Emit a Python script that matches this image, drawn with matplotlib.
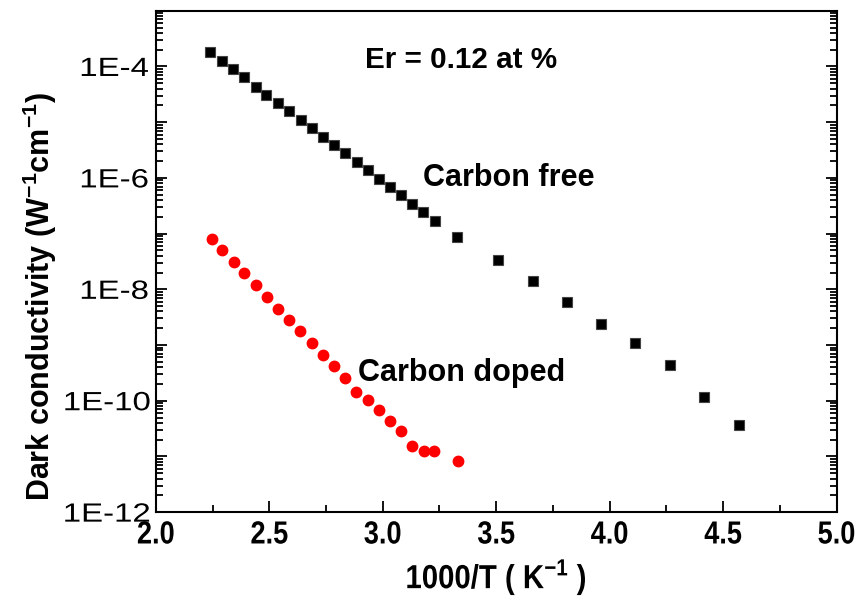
import matplotlib
matplotlib.use("Agg")
import matplotlib.pyplot as plt
import numpy as np
from matplotlib.ticker import LogLocator, FuncFormatter, MultipleLocator, NullFormatter
from matplotlib.patheffects import AbstractPathEffect
from matplotlib.transforms import Affine2D

# Arrhenius data, 1000/T against log10 of the dark conductivity
x_free = [2.238, 2.292, 2.338, 2.388, 2.442, 2.487, 2.538, 2.587, 2.638, 2.690,
          2.738, 2.787, 2.835, 2.885, 2.937, 2.982, 3.032, 3.081, 3.129, 3.178,
          3.228, 3.329, 3.510, 3.660, 3.810, 3.960, 4.110, 4.265, 4.415, 4.569]
logs_free = [-3.731, -3.898, -4.047, -4.197, -4.370, -4.513, -4.664, -4.795, -4.957, -5.106,
             -5.268, -5.411, -5.555, -5.706, -5.867, -6.016, -6.165, -6.303, -6.465, -6.609,
             -6.770, -7.063, -7.476, -7.853, -8.230, -8.614, -8.966, -9.361, -9.935, -10.438]

x_doped = [2.246, 2.290, 2.343, 2.387, 2.440, 2.488, 2.537, 2.585, 2.634, 2.687, 2.735,
           2.784, 2.832, 2.881, 2.934, 2.982, 3.031, 3.079, 3.128, 3.181, 3.225, 3.333]
logs_doped = [-7.099, -7.303, -7.501, -7.709, -7.925, -8.140, -8.356, -8.553, -8.751, -8.966, -9.181,
              -9.368, -9.583, -9.835, -9.978, -10.158, -10.366, -10.546, -10.804, -10.894, -10.905, -11.084]

sig_free = 10.0 ** np.array(logs_free)
sig_doped = 10.0 ** np.array(logs_doped)


class Stretch(AbstractPathEffect):
    """Scale glyphs horizontally about their own centre (narrow / wide type)."""

    def __init__(self, sx):
        super().__init__()
        self._sx = sx

    def draw_path(self, renderer, gc, tpath, affine, rgbFace=None):
        ext = tpath.get_extents()
        cx = 0.5 * (ext.x0 + ext.x1)
        t = Affine2D().translate(-cx, 0).scale(self._sx, 1).translate(cx, 0) + affine
        renderer.draw_path(gc, tpath, t, rgbFace)


plt.rcParams['font.family'] = ['Liberation Sans', 'DejaVu Sans']
plt.rcParams['mathtext.fontset'] = 'custom'
plt.rcParams['mathtext.rm'] = 'Liberation Sans'
plt.rcParams['mathtext.bf'] = 'Liberation Sans:bold'

fig = plt.figure(figsize=(8.66, 5.99), dpi=100)
ax = fig.add_axes([0.180, 0.145, 0.786, 0.837])

ax.plot(x_free, sig_free, linestyle='none', marker='s', markersize=7.5,
        markerfacecolor='black', markeredgecolor='#444444', markeredgewidth=0.8)
ax.plot(x_doped, sig_doped, linestyle='none', marker='o', markersize=7.5,
        markerfacecolor='red', markeredgecolor='red')

ax.set_yscale('log')
ax.set_xlim(2.0, 5.0)
ax.set_ylim(1e-12, 1e-3)

ax.xaxis.set_major_locator(MultipleLocator(0.5))
ax.xaxis.set_minor_locator(MultipleLocator(0.25))
ax.yaxis.set_major_locator(LogLocator(base=10, numticks=20))
ax.yaxis.set_minor_locator(LogLocator(base=10, subs=np.arange(2, 10), numticks=20))
ax.yaxis.set_minor_formatter(NullFormatter())


def elabel(v, pos):
    n = int(round(np.log10(v)))
    if n % 2 == 0:
        return '1E%d' % n
    return ''


ax.yaxis.set_major_formatter(FuncFormatter(elabel))

for s in ax.spines.values():
    s.set_linewidth(1.5)

ax.tick_params(axis='both', which='both', direction='in', width=1.3, top=False, right=True)
ax.tick_params(axis='both', which='major', length=8)
ax.tick_params(axis='both', which='minor', length=5)
ax.tick_params(axis='y', labelsize=19, pad=10)
ax.tick_params(axis='x', labelsize=23, pad=6)
for lab in ax.get_yticklabels():
    lab.set_path_effects([Stretch(1.25)])
for lab in ax.get_xticklabels():
    lab.set_fontweight('bold')
    lab.set_path_effects([Stretch(0.85)])

ax.set_xlabel(r'1000/T ( K$^{\mathbf{-1}}$ )', fontsize=24,
              fontweight='bold', labelpad=4, path_effects=[Stretch(0.88)])
ax.set_ylabel(r'Dark conductivity (W$^{\mathbf{-1}}$cm$^{\mathbf{-1}}$)', fontsize=22,
              fontweight='bold')
ax.yaxis.set_label_coords(-0.143, 0.43)

ax.text(2.92, 10 ** -3.88, 'Er = 0.12 at %', fontsize=21.3, fontweight='bold',
        ha='left', va='center')
ax.text(3.177, 10 ** -6.0, 'Carbon free', fontsize=22, fontweight='bold',
        ha='left', va='center')
ax.text(2.89, 10 ** -9.5, 'Carbon doped', fontsize=22, fontweight='bold',
        ha='left', va='center')

fig.savefig('out.png', dpi=100)
